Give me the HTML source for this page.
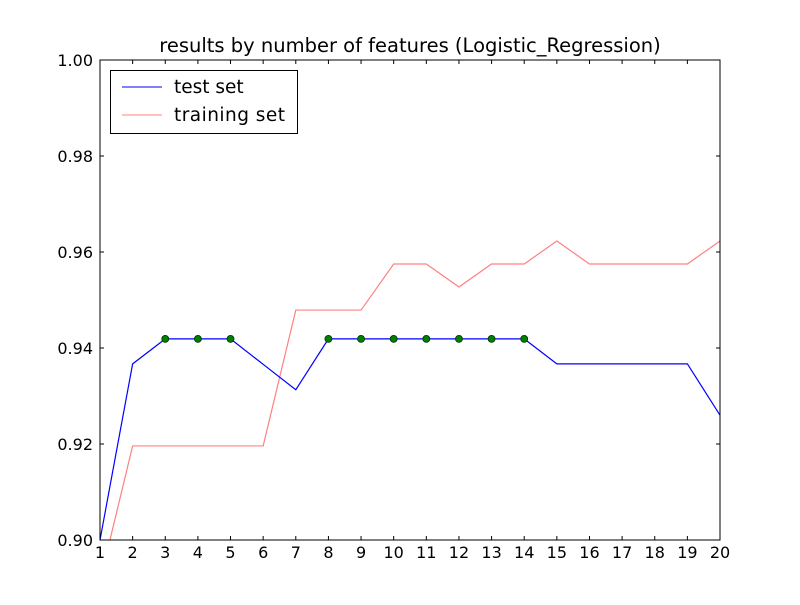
<!DOCTYPE html>
<html><head><meta charset="utf-8"><style>
body{margin:0;background:#fff}
svg text{font-family:"DejaVu Sans","Liberation Sans",sans-serif;fill:#000}
</style></head><body>
<svg id="chart" width="800" height="600" xmlns="http://www.w3.org/2000/svg">
<rect width="800" height="600" fill="#fff"/>
<defs><clipPath id="clip"><rect x="100" y="60" width="620" height="480"/></clipPath></defs>
<text x="410" y="52" font-size="19.5" text-anchor="middle">results by number of features (Logistic_Regression)</text>
<g id="axes"></g>
<g id="series" clip-path="url(#clip)"></g>
<rect x="100" y="60" width="620" height="480" fill="none" stroke="#000" stroke-width="1"/>
<g>
<rect x="110.5" y="70.5" width="187" height="63" fill="#fff" stroke="#000"/>
<line x1="122" y1="87" x2="162" y2="87" stroke="#0000ff"/>
<text x="174" y="93" font-size="18.5">test set</text>
<line x1="122" y1="115" x2="162" y2="115" stroke="#ff8080"/>
<text x="174" y="121" font-size="18.5" textLength="111">training set</text>
</g>
</svg>
<script>
const features=[1,2,3,4,5,6,7,8,9,10,11,12,13,14,15,16,17,18,19,20];
const testScores=[0.9,0.9367,0.9419,0.9419,0.9419,0.9366,0.9313,0.9419,0.9419,0.9419,0.9419,0.9419,0.9419,0.9419,0.9367,0.9367,0.9367,0.9367,0.9367,0.926];
const trainScores=[0.8914,0.9196,0.9196,0.9196,0.9196,0.9196,0.9479,0.9479,0.9479,0.9575,0.9575,0.9527,0.9575,0.9575,0.9623,0.9575,0.9575,0.9575,0.9575,0.9623];
const bestFeatures=[3,4,5,8,9,10,11,12,13,14];
const yTicks=[0.90,0.92,0.94,0.96,0.98,1.00];
const xTicks=[1,2,3,4,5,6,7,8,9,10,11,12,13,14,15,16,17,18,19,20];
const NS="http://www.w3.org/2000/svg";
const X=v=>100+(v-1)/19*620;
const Y=v=>540-(v-0.9)/0.1*480;
const axes=document.getElementById('axes'),ser=document.getElementById('series');
function mk(tag,attrs,parent){const e=document.createElementNS(NS,tag);for(const k in attrs)e.setAttribute(k,attrs[k]);parent.appendChild(e);return e;}
xTicks.forEach(t=>{const x=X(t);
 const a=mk('line',{x1:x,y1:540,x2:x,y2:536,stroke:'#000'},axes);
 
 
 const b=mk('line',{x1:x,y1:60,x2:x,y2:64,stroke:'#000'},axes);
 
 
 const l=mk('text',{x:x,y:558,'font-size':16,'text-anchor':'middle'},axes);l.textContent=t;
 
 
});
yTicks.forEach(t=>{const y=Y(t);
 const a=mk('line',{x1:100,y1:y,x2:104,y2:y,stroke:'#000'},axes);
 
 
 const b=mk('line',{x1:716,y1:y,x2:720,y2:y,stroke:'#000'},axes);
 
 
 const l=mk('text',{x:93,y:y+6,'font-size':16,'text-anchor':'end'},axes);l.textContent=t.toFixed(2);
 
 
});
const tr=mk('polyline',{points:features.map((f,i)=>X(f)+','+Y(trainScores[i])).join(' '),fill:'none',stroke:'#ff8080','stroke-width':1.2},ser);


const te=mk('polyline',{points:features.map((f,i)=>X(f)+','+Y(testScores[i])).join(' '),fill:'none',stroke:'#0000ff','stroke-width':1.2},ser);


bestFeatures.forEach(f=>{const i=features.indexOf(f);
 const c=mk('circle',{cx:X(f),cy:Y(testScores[i]),r:3.5,fill:'#007f00',stroke:'#003300','stroke-width':0.8},ser);
 
 
});
</script>
</body></html>
